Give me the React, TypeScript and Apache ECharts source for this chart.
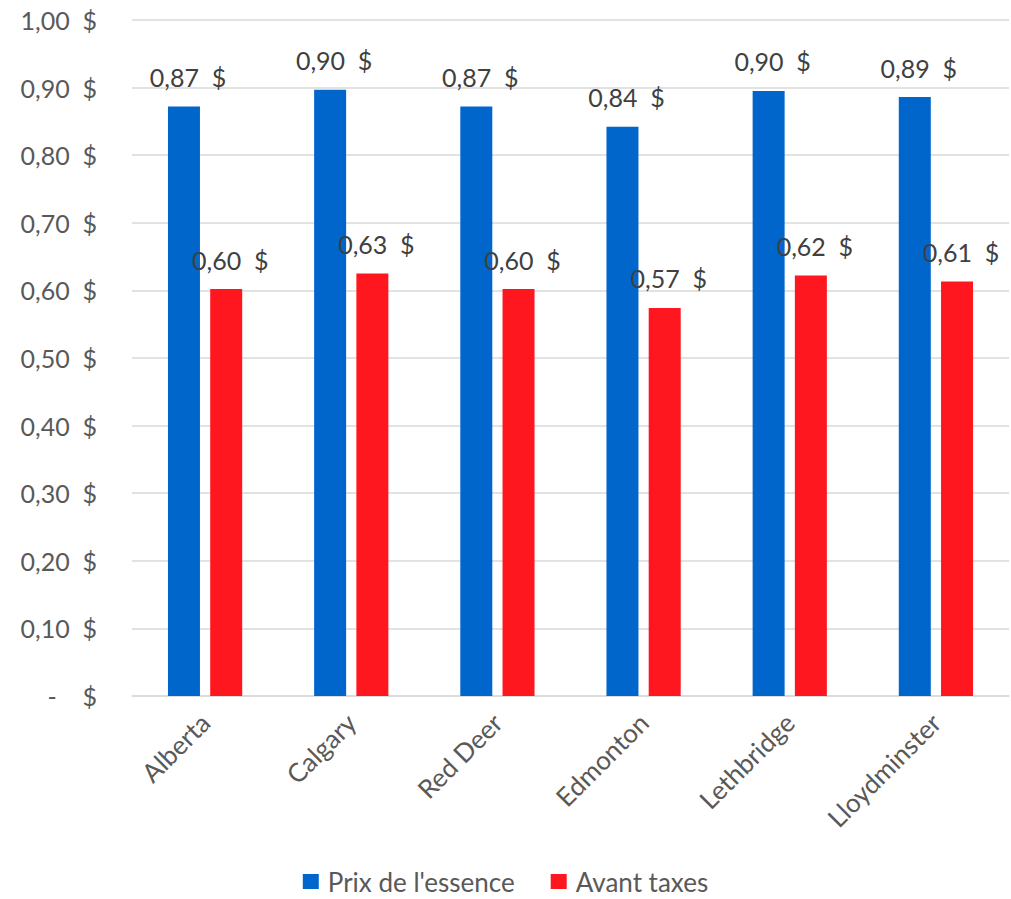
import React, { useEffect, useRef } from "react";
import * as echarts from "echarts";

const categories = ["Alberta", "Calgary", "Red Deer", "Edmonton", "Lethbridge", "Lloydminster"];
const prixEssence = [0.872, 0.897, 0.872, 0.842, 0.895, 0.886];
const avantTaxes = [0.602, 0.625, 0.602, 0.574, 0.622, 0.613];
const seriesNames = ["Prix de l'essence", "Avant taxes"];

const FONT = "Lato";

const fmt = (v: number) => v.toFixed(2).replace(".", ",") + "  $";

export default function App() {
  const ref = useRef<HTMLDivElement>(null);
  useEffect(() => {
    document.body.style.margin = "0";
    const chart = echarts.init(ref.current!, null, { renderer: "svg" });
    const labelCommon = {
      show: true,
      position: "top" as const,
      distance: 17,
      offset: [4, 0],
      color: "#404040",
      fontFamily: FONT,
      fontSize: 25,
      formatter: (p: any) => fmt(p.value),
    };
    chart.setOption({
      animation: false,
      grid: { left: 132, right: 2, top: 20, bottom: 203, containLabel: false },
      legend: {
        data: seriesNames,
        top: 868,
        left: "center",
        padding: 0,
        itemWidth: 16,
        itemHeight: 15,
        itemGap: 36,
        icon: "rect",
        textStyle: {
          color: "#595959",
          fontFamily: FONT,
          fontSize: 26,
          lineHeight: 27,
          padding: [0, 0, 0, 4],
        },
      },
      xAxis: {
        type: "category",
        data: categories,
        axisLine: { show: true, lineStyle: { color: "#d9d9d9", width: 1.5 } },
        axisTick: { show: false },
        axisLabel: {
          rotate: 45,
          color: "#595959",
          fontFamily: FONT,
          fontSize: 26,
          margin: 22,
        },
      },
      yAxis: {
        type: "value",
        min: 0,
        max: 1,
        interval: 0.1,
        axisLine: { show: false },
        axisTick: { show: false },
        splitLine: { lineStyle: { color: "#d9d9d9", width: 1.5 } },
        axisLabel: {
          color: "#595959",
          fontFamily: FONT,
          fontSize: 25,
          margin: 35,
          formatter: (v: number) => (Math.abs(v) < 1e-9 ? "-    $" : fmt(v)),
        },
      },
      series: [
        {
          name: seriesNames[0],
          type: "bar",
          data: prixEssence,
          barWidth: 32,
          barGap: "32%",
          itemStyle: { color: "#0066cc" },
          label: labelCommon,
        },
        {
          name: seriesNames[1],
          type: "bar",
          data: avantTaxes,
          barWidth: 32,
          barGap: "32%",
          itemStyle: { color: "#ff1720" },
          label: labelCommon,
        },
      ],
    });
    return () => chart.dispose();
  }, []);
  return <div ref={ref} style={{ width: 1011, height: 899 }} />;
}
